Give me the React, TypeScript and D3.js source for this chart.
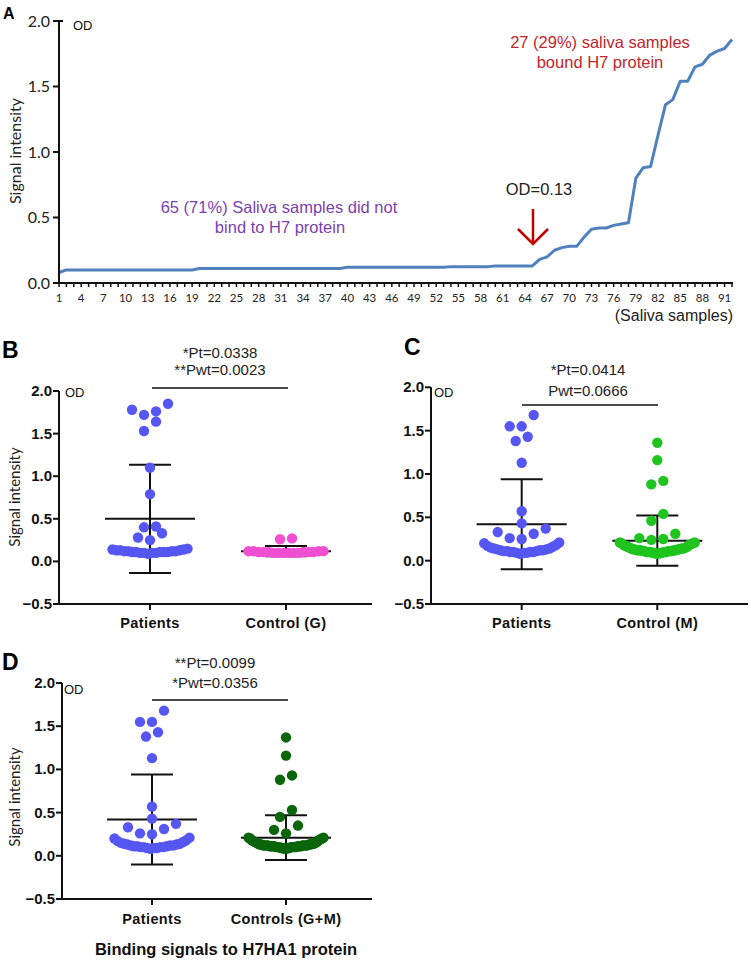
import React from 'react';
import * as d3 from 'd3';

// ---------- Panel A data ----------
const aValues = [
  0.08,
  0.10, 0.10, 0.10, 0.10, 0.10, 0.10, 0.10, 0.10, 0.10, 0.10, 0.10, 0.10, 0.10, 0.10, 0.10, 0.10, 0.10, 0.10,
  0.11, 0.11, 0.11, 0.11, 0.11, 0.11, 0.11, 0.11, 0.11, 0.11, 0.11, 0.11, 0.11, 0.11, 0.11, 0.11, 0.11, 0.11, 0.11, 0.11,
  0.12, 0.12, 0.12, 0.12, 0.12, 0.12, 0.12, 0.12, 0.12, 0.12, 0.12, 0.12, 0.12, 0.12,
  0.125, 0.125, 0.125, 0.125, 0.125, 0.125,
  0.13, 0.13, 0.13, 0.13, 0.13, 0.13,
  0.18, 0.20, 0.25, 0.27, 0.28, 0.28, 0.35, 0.41, 0.42, 0.42, 0.44, 0.45, 0.46,
  0.80, 0.88, 0.89, 1.13, 1.36, 1.40, 1.54, 1.54, 1.65, 1.67, 1.74, 1.77, 1.79, 1.86,
];
const aXTickLabels = [1, 4, 7, 10, 13, 16, 19, 22, 25, 28, 31, 34, 37, 40, 43, 46, 49, 52, 55, 58, 61, 64, 67, 70, 73, 76, 79, 82, 85, 88, 91];
const aYTicks = [0, 0.5, 1.0, 1.5, 2.0];

// ---------- Scatter panels data ----------
const bPatients = [1.85, 1.78, 1.76, 1.72, 1.64, 1.53, 1.10, 0.79, 0.41, 0.40, 0.33, 0.28, 0.25,
  0.15, 0.14, 0.14, 0.13, 0.13, 0.13, 0.12, 0.12, 0.12, 0.12, 0.11, 0.11, 0.11, 0.11, 0.11, 0.10, 0.10, 0.10, 0.10, 0.09];
const bControlG = [0.27, 0.26, 0.12, 0.12, 0.12, 0.12, 0.11, 0.11, 0.11, 0.11, 0.11, 0.11, 0.10, 0.10, 0.10, 0.10, 0.10, 0.10];
const cPatients = [1.68, 1.55, 1.55, 1.43, 1.38, 1.13, 0.57, 0.43, 0.37, 0.33, 0.31, 0.26, 0.25,
  0.21, 0.20, 0.18, 0.17, 0.16, 0.15, 0.14, 0.14, 0.13, 0.13, 0.12, 0.12, 0.12, 0.11, 0.11, 0.11, 0.10, 0.10, 0.10, 0.10, 0.09, 0.09, 0.09, 0.08];
const cControlM = [1.36, 1.16, 0.92, 0.88, 0.54, 0.46, 0.31, 0.26, 0.25, 0.24,
  0.21, 0.21, 0.20, 0.20, 0.19, 0.18, 0.18, 0.17, 0.16, 0.16, 0.15, 0.15, 0.14, 0.14, 0.14, 0.13, 0.13, 0.13, 0.13, 0.12, 0.12, 0.12, 0.12,
  0.12, 0.11, 0.11, 0.11, 0.11, 0.11, 0.10, 0.10, 0.10, 0.10, 0.10, 0.09, 0.09, 0.09, 0.09, 0.08, 0.08];
const dPatients = [1.68, 1.55, 1.55, 1.43, 1.38, 1.13, 0.57, 0.43, 0.37, 0.33, 0.31, 0.26, 0.25,
  0.21, 0.20, 0.18, 0.17, 0.16, 0.15, 0.14, 0.14, 0.13, 0.13, 0.12, 0.12, 0.12, 0.11, 0.11, 0.11, 0.10, 0.10, 0.10, 0.10, 0.09, 0.09, 0.09, 0.08];
const dControls = [1.37, 1.16, 0.93, 0.88, 0.53, 0.45, 0.35, 0.30, 0.26,
  0.21, 0.21, 0.20, 0.20, 0.19, 0.18, 0.18, 0.17, 0.16, 0.16, 0.15, 0.15, 0.14, 0.14, 0.14, 0.13, 0.13, 0.13, 0.13, 0.12, 0.12, 0.12, 0.12,
  0.12, 0.12, 0.12, 0.12, 0.11, 0.11, 0.11, 0.11, 0.11, 0.11, 0.11, 0.10, 0.10, 0.10, 0.10, 0.10, 0.10, 0.10, 0.09, 0.09, 0.09, 0.09, 0.08, 0.08];

const scatterYTicks = [-0.5, 0.0, 0.5, 1.0, 1.5, 2.0];
const bCategories = ['Patients', 'Control (G)'];
const cCategories = ['Patients', 'Control (M)'];
const dCategories = ['Patients', 'Controls (G+M)'];
const bMeans = [0.50, 0.12];
const bSDs = [0.635, 0.06];
const cMeans = [0.42, 0.23];
const cSDs = [0.52, 0.29];
const dMeans = [0.42, 0.21];
const dSDs = [0.52, 0.26];
const bPText = ['*Pt=0.0338', '**Pwt=0.0023'];
const cPText = ['*Pt=0.0414', 'Pwt=0.0666'];
const dPText = ['**Pt=0.0099', '*Pwt=0.0356'];

const CAL = 'Lato, "Open Sans", sans-serif';
const ARIAL = '"Liberation Sans", Arial, sans-serif';

function swarm(values: number[], y: (v: number) => number, cx: number, rowH = 12, spacing = 12, maxW = 75) {
  const sorted = [...values].sort((a, b) => a - b);
  const rows: number[][] = [];
  let cur: number[] = [];
  let startY = 0;
  for (const v of sorted) {
    const py = y(v);
    if (cur.length && startY - py > rowH) { rows.push(cur); cur = []; }
    if (!cur.length) startY = py;
    cur.push(v);
  }
  if (cur.length) rows.push(cur);
  const pts: { x: number; y: number }[] = [];
  rows.forEach(row => {
    const n = row.length;
    const s = n > 1 ? Math.min(spacing, maxW / (n - 1)) : 0;
    const slots = d3.range(n).map(i => (i - (n - 1) / 2) * s)
      .sort((a, b) => (Math.abs(a) - Math.abs(b)) || (a - b));
    row.forEach((v, i) => pts.push({ x: cx + slots[i], y: y(v) }));
  });
  return pts;
}

type PanelCfg = {
  letter: string; letterX: number; letterY: number;
  x0: number; x1: number; y2: number; yNeg: number;
  cats: string[]; catX: number[]; groups: number[][]; colors: string[];
  means: number[]; sds: number[];
  pText: string[]; pX: number; pY: number[]; lineY: number; lineX: number[];
  odX: number; odY: number; yTitleY?: number; catY: number;
};

function ScatterPanel({ c }: { c: PanelCfg }) {
  const y = d3.scaleLinear().domain([-0.5, 2.0]).range([c.yNeg, c.y2]);
  const x = d3.scalePoint<string>().domain(c.cats).range([c.catX[0], c.catX[1]]);
  return (
    <g>
      <text x={c.letterX} y={c.letterY} fontFamily={ARIAL} fontWeight="bold" fontSize={23} fill="#000">{c.letter}</text>
      {c.pText.map((t, i) => (
        <text key={t} x={c.pX} y={c.pY[i]} textAnchor="middle" fontFamily={ARIAL} fontSize={15} fill="#222">{t}</text>
      ))}
      <line x1={c.lineX[0]} x2={c.lineX[1]} y1={c.lineY} y2={c.lineY} stroke="#111" strokeWidth={1.3} />
      <text x={c.odX} y={c.odY} fontFamily={ARIAL} fontSize={13} fill="#111">OD</text>
      {c.yTitleY !== undefined && (
        <text transform={`translate(20,${c.yTitleY}) rotate(-90)`} textAnchor="middle" fontFamily={CAL} fontSize={15} fill="#222">Signal intensity</text>
      )}
      {/* error bars */}
      {c.cats.map((cat, i) => {
        const cx = x(cat)!;
        const m = c.means[i], s = c.sds[i];
        return (
          <g key={cat} stroke="#111" strokeWidth={2}>
            <line x1={cx} x2={cx} y1={y(m - s)} y2={y(m + s)} />
            <line x1={cx - 45} x2={cx + 45} y1={y(m)} y2={y(m)} />
            <line x1={cx - 21} x2={cx + 21} y1={y(m + s)} y2={y(m + s)} />
            <line x1={cx - 21} x2={cx + 21} y1={y(m - s)} y2={y(m - s)} />
          </g>
        );
      })}
      {/* dots */}
      {c.groups.map((g, gi) => swarm(g, y, x(c.cats[gi])!).map((p, i) => (
        <circle key={`${gi}-${i}`} cx={p.x} cy={p.y} r={5.2} fill={c.colors[gi]} />
      )))}
      {/* axes */}
      <line x1={c.x0} x2={c.x0} y1={y(2.0)} y2={c.yNeg + 1} stroke="#111" strokeWidth={2} />
      <line x1={c.x0 - 1} x2={c.x1} y1={c.yNeg} y2={c.yNeg} stroke="#111" strokeWidth={2} />
      {scatterYTicks.map(t => (
        <g key={t}>
          <line x1={c.x0 - 6} x2={c.x0} y1={y(t)} y2={y(t)} stroke="#111" strokeWidth={2} />
          <text x={c.x0 - 7} y={y(t) + 5} textAnchor="end" fontFamily={ARIAL} fontWeight="bold" fontSize={15} fill="#111">{d3.format('.1f')(t)}</text>
        </g>
      ))}
      {c.cats.map(cat => (
        <g key={cat}>
          <line x1={x(cat)!} x2={x(cat)!} y1={c.yNeg} y2={c.yNeg + 6} stroke="#111" strokeWidth={2} />
          <text x={x(cat)!} y={c.catY} textAnchor="middle" fontFamily={ARIAL} fontWeight="bold" fontSize={14.5} letterSpacing={0.4} fill="#111">{cat}</text>
        </g>
      ))}
    </g>
  );
}

function PanelA() {
  const x = d3.scaleLinear().domain([1, 92]).range([59, 732]);
  const y = d3.scaleLinear().domain([0, 2]).range([283, 21]);
  const line = d3.line<number>().x((_, i) => x(i + 1)).y(v => y(v));
  const samples = aValues.map((_, i) => i + 1);
  return (
    <g>
      <text x={3} y={19} fontFamily={ARIAL} fontWeight="bold" fontSize={16}>A</text>
      <text x={73} y={30} fontFamily={ARIAL} fontSize={13} fill="#111">OD</text>
      <text transform="translate(21,151) rotate(-90)" textAnchor="middle" fontFamily={CAL} fontSize={16} fill="#222">Signal intensity</text>
      <path d={line(aValues) || ''} fill="none" stroke="#4f81bd" strokeWidth={3} strokeLinejoin="round" />
      {/* axes */}
      <line x1={59} x2={59} y1={y(2)} y2={y(0) + 1} stroke="#111" strokeWidth={2} />
      <line x1={59} x2={63} y1={y(2)} y2={y(2)} stroke="#111" strokeWidth={2} />
      <line x1={58} x2={733} y1={y(0)} y2={y(0)} stroke="#111" strokeWidth={2} />
      {aYTicks.map(t => (
        <g key={t}>
          <line x1={53} x2={59} y1={y(t)} y2={y(t)} stroke="#111" strokeWidth={2} />
          <text x={50} y={y(t) + 5.5} textAnchor="end" fontFamily={CAL} fontSize={16} fill="#222">{d3.format('.1f')(t)}</text>
        </g>
      ))}
      {samples.map(s => (
        <line key={s} x1={x(s)} x2={x(s)} y1={y(0)} y2={y(0) + 4} stroke="#111" strokeWidth={1.5} />
      ))}
      {aXTickLabels.map(s => (
        <text key={s} x={x(s)} y={302} textAnchor="middle" fontFamily={CAL} fontSize={11.5} fill="#222">{s}</text>
      ))}
      <text x={733} y={321} textAnchor="end" fontFamily={ARIAL} fontSize={16} fill="#222">(Saliva samples)</text>
      <text x={279} y={213} textAnchor="middle" fontFamily={ARIAL} fontSize={16.5} fill="#7b3fb0">65 (71%) Saliva samples did not</text>
      <text x={280} y={233} textAnchor="middle" fontFamily={ARIAL} fontSize={16.5} fill="#7b3fb0">bind to H7 protein</text>
      <text x={600} y={48} textAnchor="middle" fontFamily={ARIAL} fontSize={16.5} fill="#c0262d">27 (29%) saliva samples</text>
      <text x={600} y={68} textAnchor="middle" fontFamily={ARIAL} fontSize={16.5} fill="#c0262d">bound H7 protein</text>
      <text x={539} y={195} textAnchor="middle" fontFamily={ARIAL} fontSize={16.5} fill="#222">OD=0.13</text>
      <g stroke="#c00000" strokeWidth={2.5} fill="none">
        <line x1={533} x2={533} y1={209} y2={244} />
        <polyline points="518,229 533,244 548,229" />
      </g>
    </g>
  );
}

const panelB: PanelCfg = {
  letter: 'B', letterX: 2, letterY: 358, x0: 59, x1: 372, y2: 391, yNeg: 604,
  cats: bCategories, catX: [150, 286], groups: [bPatients, bControlG], colors: ['#5656f2', '#f04fd2'],
  means: bMeans, sds: bSDs, pText: bPText, pX: 220, pY: [358, 375], lineY: 388, lineX: [152, 288],
  odX: 65, odY: 397, yTitleY: 497, catY: 628,
};
const panelC: PanelCfg = {
  letter: 'C', letterX: 404, letterY: 355, x0: 431, x1: 748, y2: 387.3, yNeg: 604,
  cats: cCategories, catX: [521.7, 657.3], groups: [cPatients, cControlM], colors: ['#5656f2', '#1fc41f'],
  means: cMeans, sds: cSDs, pText: cPText, pX: 588, pY: [375, 396], lineY: 405, lineX: [522, 658],
  odX: 434, odY: 397, catY: 628,
};
const panelD: PanelCfg = {
  letter: 'D', letterX: 2, letterY: 670, x0: 62, x1: 372, y2: 683, yNeg: 899,
  cats: dCategories, catX: [152, 286], groups: [dPatients, dControls], colors: ['#5656f2', '#0b650b'],
  means: dMeans, sds: dSDs, pText: dPText, pX: 215, pY: [668, 688], lineY: 700, lineX: [152, 288],
  odX: 64, odY: 694, yTitleY: 797, catY: 924,
};

export default function App() {
  return (
    <svg width={751} height={962} style={{ position: 'absolute', left: 0, top: 0, background: '#fff' }}>
      <rect width={751} height={962} fill="#fff" />
      <PanelA />
      <ScatterPanel c={panelB} />
      <ScatterPanel c={panelC} />
      <ScatterPanel c={panelD} />
      <text x={226} y={955} textAnchor="middle" fontFamily={ARIAL} fontWeight="bold" fontSize={16.5} fill="#111">Binding signals to H7HA1 protein</text>
    </svg>
  );
}
